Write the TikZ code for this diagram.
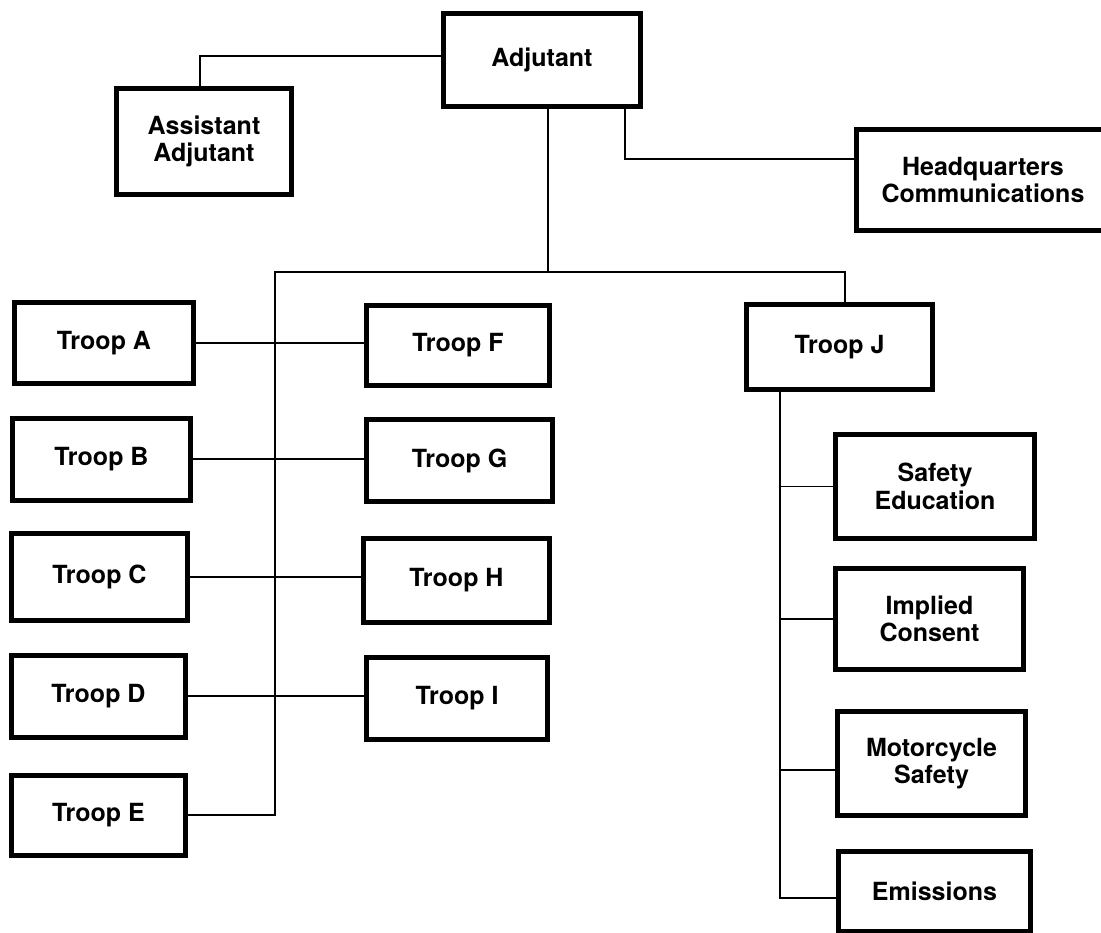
\documentclass[tikz,border=0pt]{standalone}
\usepackage{fontspec}
\setmainfont{TeX Gyre Heros}
\tikzset{
  box/.style={draw, line width=5pt, inner sep=0pt, align=center,
    font=\fontsize{25}{27.5}\selectfont\bfseries},
  conn/.style={line width=1.8pt}
}
\begin{document}
\begin{tikzpicture}[x=1pt,y=-1pt]
\useasboundingbox (0,0) rectangle (1101,933);
% boxes
\node[box, minimum width=197, minimum height=93] (adj) at (542,60) {Adjutant};
\node[box, minimum width=175, minimum height=106] (asst) at (204,141.5) {Assistant\\Adjutant};
\node[box, minimum width=253, minimum height=101] (hq) at (983,180) {Headquarters\\Communications};
\node[box, minimum width=179, minimum height=81] (ta) at (104,343) {Troop A};
\node[box, minimum width=178, minimum height=82] (tb) at (101.5,459) {Troop B};
\node[box, minimum width=176, minimum height=87] (tc) at (99.5,577) {Troop C};
\node[box, minimum width=174, minimum height=82] (td) at (98.5,696) {Troop D};
\node[box, minimum width=174, minimum height=80] (te) at (98.5,815) {Troop E};
\node[box, minimum width=183, minimum height=80] (tf) at (458,345.5) {Troop F};
\node[box, minimum width=186, minimum height=82] (tg) at (459.5,460.5) {Troop G};
\node[box, minimum width=186, minimum height=84] (th) at (456.5,580.5) {Troop H};
\node[box, minimum width=181, minimum height=82] (ti) at (457,698.5) {Troop I};
\node[box, minimum width=186, minimum height=85] (tj) at (839.5,347) {Troop J};
\node[box, minimum width=199, minimum height=104] (se) at (935,486.5) {Safety\\Education};
\node[box, minimum width=188, minimum height=101] (ic) at (929.5,619) {Implied\\Consent};
\node[box, minimum width=188, minimum height=104] (ms) at (931.5,763.5) {Motorcycle\\Safety};
\node[box, minimum width=192, minimum height=80] (em) at (934.5,891) {Emissions};
% junction points
\coordinate (asC) at (200,56);
\coordinate (busL) at (275,272);
\coordinate (busM) at (548,272);
\coordinate (busR) at (845,272);
\coordinate (hqC) at (625,159);
\coordinate (jv) at (780,898);
\coordinate (msC) at (780,770);
% connectors
\draw[conn] (adj.west |- asC) -- (asC) -- (asC |- asst.north);
\draw[conn] (adj.south -| busM) -- (busM);
\draw[conn] (adj.south -| hqC) -- (hqC) -- (hqC -| hq.west);
\draw[conn] (busR |- tj.north) -- (busR) -- (busL) -- (busL |- te.east) -- (te.east);
\draw[conn] (ta.east) -- (ta.east -| tf.west);
\draw[conn] (tb.east) -- (tb.east -| tg.west);
\draw[conn] (tc.east) -- (tc.east -| th.west);
\draw[conn] (td.east) -- (td.east -| ti.west);
\draw[conn] (tj.south -| jv) -- (jv) -- (jv -| em.west);
\draw[conn] (jv |- se.west) -- (se.west);
\draw[conn] (jv |- ic.west) -- (ic.west);
\draw[conn] (msC) -- (msC -| ms.west);
\end{tikzpicture}
\end{document}
